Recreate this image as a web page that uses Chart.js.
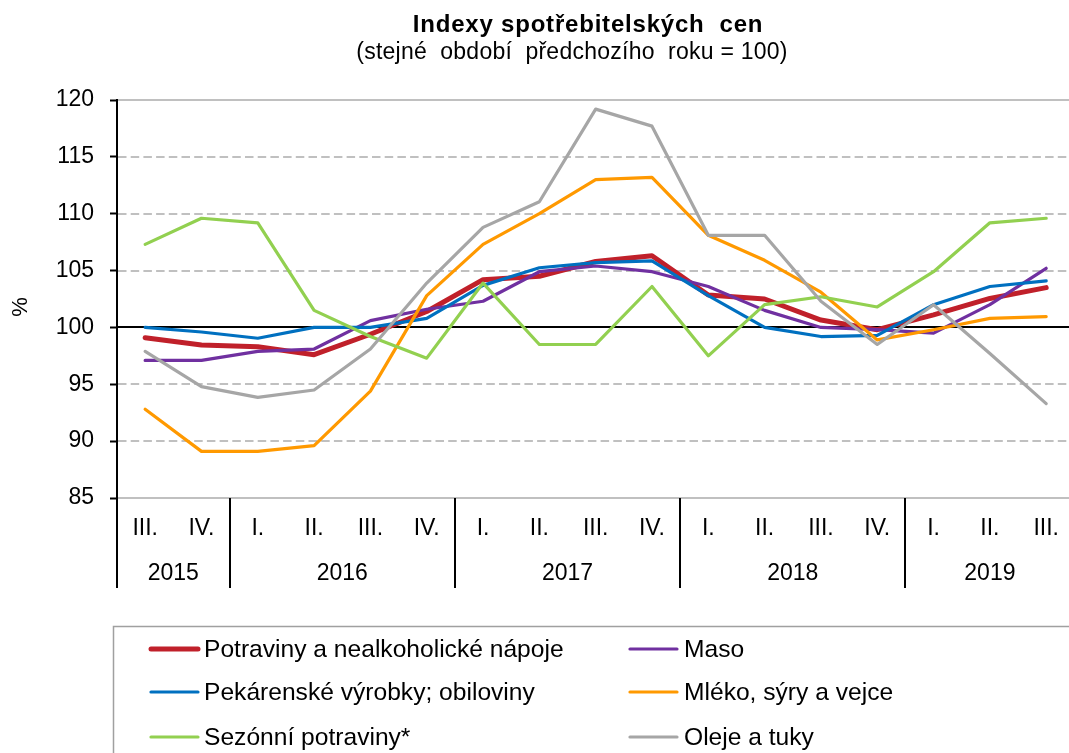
<!DOCTYPE html>
<html><head><meta charset="utf-8">
<script src="https://cdn.jsdelivr.net/npm/chart.js@4.4.0/dist/chart.umd.min.js"></script>
<style>
html,body{margin:0;padding:0;background:#fff;overflow:hidden;width:1069px;height:753px}
#wrap{position:absolute;left:0;top:0;width:1076px;height:753px}
</style></head><body>
<div id="wrap"><canvas id="c" width="1076" height="753"></canvas></div>
<script>
const quarters = ['III.','IV.','I.','II.','III.','IV.','I.','II.','III.','IV.','I.','II.','III.','IV.','I.','II.','III.'];
const years = ['2015','2016','2017','2018','2019'];
const yearSpans = [2,4,4,4,3];
const yTickValues = [85,90,95,100,105,110,115,120];

const potraviny = [99.1,98.45,98.3,97.6,99.4,101.4,104.2,104.5,105.8,106.3,102.85,102.5,100.65,99.8,101.1,102.55,103.5];
const maso      = [97.1,97.1,97.9,98.1,100.6,101.6,102.3,104.9,105.4,104.9,103.6,101.5,100.0,99.8,99.5,102.0,105.2];
const pekarenske= [100.0,99.6,99.05,100.0,100.0,100.8,103.7,105.25,105.7,105.85,102.8,100.0,99.2,99.3,102.0,103.6,104.1];
const mleko     = [92.8,89.1,89.1,89.6,94.4,102.8,107.3,110.0,113.0,113.2,108.1,105.9,103.1,98.9,99.8,100.8,100.95];
const sezonni   = [107.3,109.6,109.2,101.5,99.2,97.3,103.9,98.5,98.5,103.6,97.5,102.0,102.7,101.8,104.9,109.2,109.6];
const oleje     = [97.9,94.8,93.85,94.5,98.1,103.9,108.8,111.05,119.2,117.7,108.1,108.1,102.3,98.5,102.0,97.7,93.3];

const seriesNames = ['Potraviny a nealkoholické nápoje','Maso','Pekárenské výrobky; obiloviny','Mléko, sýry a vejce','Sezónní potraviny*','Oleje a tuky'];
const seriesData = [potraviny, maso, pekarenske, mleko, sezonni, oleje];
const seriesColors = ['#C0202A','#7030A0','#0070C0','#FF9900','#92D050','#A6A6A6'];
const seriesWidths = [5,3.2,3.2,3.2,3.2,3.2];

const FONT = "'Liberation Sans', Arial, sans-serif";

const decor = {
  id: 'decor',
  beforeDatasetsDraw(chart) {
    const {ctx, chartArea: a, scales: {y}} = chart;
    ctx.save();
    y.ticks.forEach(t => {
      const py = Math.round(y.getPixelForValue(t.value));
      ctx.beginPath();
      if (t.value === 100) {
        ctx.strokeStyle = '#000'; ctx.lineWidth = 2; ctx.setLineDash([]);
      } else if (t.value === 120 || t.value === 85) {
        ctx.strokeStyle = '#C0C0C0'; ctx.lineWidth = 2; ctx.setLineDash([]);
      } else {
        ctx.strokeStyle = '#C0C0C0'; ctx.lineWidth = 2; ctx.setLineDash([8.5, 4.2]);
      }
      ctx.moveTo(a.left + 1, py);
      ctx.lineTo(a.right, py);
      ctx.stroke();
    });
    ctx.restore();
  },
  afterDraw(chart) {
    const {ctx, chartArea: a, scales: {x}} = chart;
    ctx.save();
    ctx.fillStyle = '#000';
    // titles
    ctx.textAlign = 'center';
    ctx.textBaseline = 'alphabetic';
    ctx.font = 'bold 24px ' + FONT;
    ctx.letterSpacing = '0.8px';
    ctx.fillText('Indexy spotřebitelských  cen', 588, 32);
    ctx.font = '23px ' + FONT;
    ctx.letterSpacing = '0.25px';
    ctx.fillText('(stejné  období  předchozího  roku = 100)', 572, 59);
    ctx.letterSpacing = '0px';
    // % label
    ctx.save();
    ctx.translate(21, 307);
    ctx.rotate(-Math.PI / 2);
    ctx.textBaseline = 'middle';
    ctx.font = '22px ' + FONT;
    ctx.fillText('%', 0, 0);
    ctx.restore();
    // year separators & labels
    ctx.strokeStyle = '#000';
    ctx.lineWidth = 2;
    let idx = 0;
    ctx.font = '23px ' + FONT;
    ctx.textBaseline = 'middle';
    years.forEach((yr, k) => {
      const first = idx, last = idx + yearSpans[k] - 1;
      const leftX = first === 0 ? a.left : (x.getPixelForValue(first - 1) + x.getPixelForValue(first)) / 2;
      ctx.beginPath();
      ctx.moveTo(Math.round(leftX), a.bottom);
      ctx.lineTo(Math.round(leftX), 588);
      ctx.stroke();
      const cx = (x.getPixelForValue(first) + x.getPixelForValue(last)) / 2;
      ctx.fillText(yr, cx, 574);
      idx += yearSpans[k];
    });
    // legend
    ctx.strokeStyle = '#A0A0A0';
    ctx.lineWidth = 1.5;
    ctx.strokeRect(113.5, 626.5, 1000, 200);
    const rows = [649, 692, 737];
    const cols = [{lx: 149, tx: 204}, {lx: 628, tx: 684}];
    ctx.font = '24.6px ' + FONT;
    ctx.textAlign = 'left';
    ctx.textBaseline = 'middle';
    chart.data.datasets.forEach((ds, i) => {
      const r = rows[Math.floor(i / 2)], c = cols[i % 2];
      ctx.beginPath();
      ctx.strokeStyle = ds.borderColor;
      ctx.lineWidth = ds.borderWidth;
      ctx.lineCap = 'round';
      ctx.moveTo(c.lx + 2, r);
      ctx.lineTo(c.lx + 49, r);
      ctx.stroke();
      ctx.fillStyle = '#000';
      ctx.fillText(ds.label, c.tx, r + 1);
    });
    ctx.restore();
  }
};

new Chart(document.getElementById('c'), {
  type: 'line',
  data: {
    labels: quarters,
    datasets: seriesNames.map((n, i) => ({
      label: n,
      data: seriesData[i],
      borderColor: seriesColors[i],
      backgroundColor: seriesColors[i],
      borderWidth: seriesWidths[i],
      pointRadius: 0,
      tension: 0,
      fill: false,
      order: 6 - i,
      borderJoinStyle: 'round',
      borderCapStyle: 'round'
    }))
  },
  options: {
    responsive: false,
    animation: false,
    devicePixelRatio: 1,
    layout: {padding: {top: 100, right: 1, bottom: 165, left: 0}},
    plugins: {legend: {display: false}, title: {display: false}, tooltip: {enabled: false}},
    scales: {
      x: {
        type: 'category',
        offset: true,
        grid: {display: false, drawTicks: false},
        border: {display: false},
        ticks: {autoSkip: false, maxRotation: 0, padding: 17, color: '#000', font: {family: FONT, size: 23}},
        afterFit: s => { s.height = 90; }
      },
      y: {
        min: 85, max: 120,
        afterBuildTicks: s => { s.ticks = yTickValues.map(v => ({value: v})); },
        grid: {display: true, drawOnChartArea: false, drawTicks: true, tickLength: 7, tickColor: '#000', tickWidth: 2},
        border: {display: true, color: '#000', width: 2},
        ticks: {padding: 16, color: '#000', font: {family: FONT, size: 23}},
        afterFit: s => { s.width = 117; }
      }
    }
  },
  plugins: [decor]
});
</script>
</body></html>
